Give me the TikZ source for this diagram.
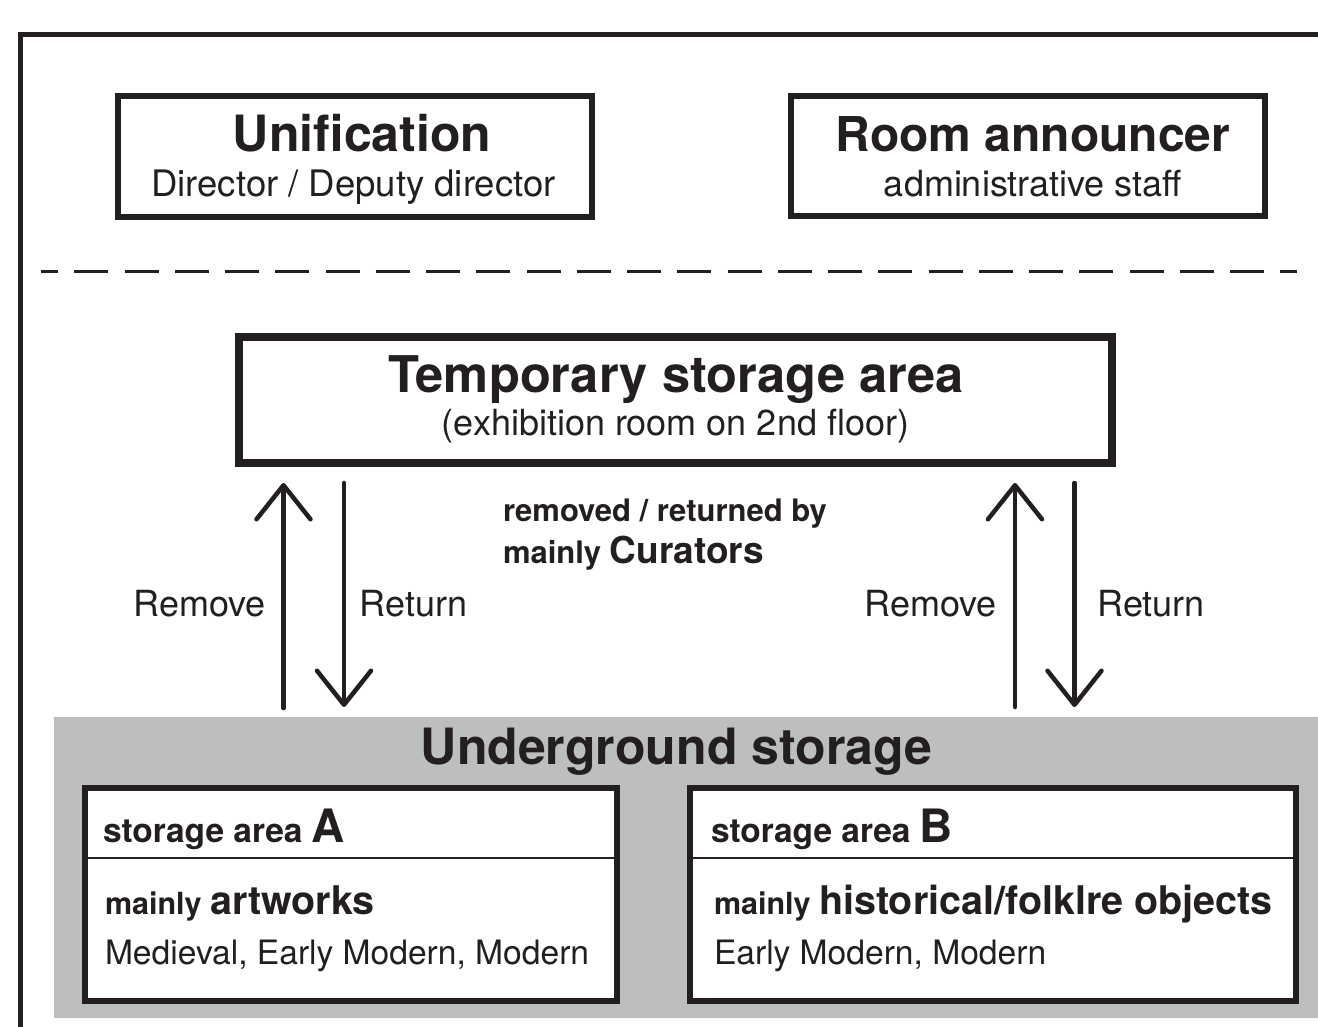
\documentclass[tikz,border=0pt]{standalone}
\usepackage{fontspec}
\setmainfont{TeX Gyre Heros}
\usetikzlibrary{arrows.meta}
\definecolor{ink}{HTML}{231F20}
\definecolor{grayfill}{HTML}{BCBEC0}
\newcommand{\fsz}[1]{\fontsize{#1}{#1}\selectfont}
\tikzset{
  box/.style={draw=ink, fill=white, rectangle, inner sep=0pt, outer sep=0pt},
  lbl/.style={anchor=base, inner sep=0pt, outer sep=0pt, text=ink},
  lblw/.style={anchor=base west, inner sep=0pt, outer sep=0pt, text=ink},
  flow/.style={draw=ink, line width=4.5pt, line cap=round,
    -{Straight Barb[length=34pt, width=54pt, line cap=round, line join=round]}},
  dashline/.style={draw=ink, line width=3.5pt, dash pattern=on 34pt off 16.25pt, dash phase=17pt},
  frame/.style={draw=ink, line width=4.5pt},
  divider/.style={draw=ink, line width=2pt}
}
\begin{document}
\begin{tikzpicture}[x=1pt, y=-1pt]
\useasboundingbox (0,0) rectangle (1318,1027);
\fill[white] (0,0) rectangle (1318,1027);

% outer frame (continues beyond the picture on the right and bottom)
\coordinate (frTR) at (1330,34.5);
\coordinate (frTL) at (20.5,34.5);
\coordinate (frBL) at (20.5,1040);
\draw[frame] (frTR) -- (frTL) -- (frBL);

% top boxes
\node[box, line width=6pt, minimum width=474pt, minimum height=121pt] (unif) at (355,156.5) {};
\node[lbl, font=\bfseries\fsz{50}] (unifT) at (362,152) {Unification};
\node[lbl, font=\fsz{36.5}] (unifS) at (353.5,197) {Director / Deputy director};

\node[box, line width=6pt, minimum width=474pt, minimum height=120pt] (room) at (1028,156) {};
\node[lbl, font=\bfseries\fsz{48}] (roomT) at (1033,152) {Room announcer};
\node[lbl, font=\fsz{36}] (roomS) at (1033,197) {administrative staff};

% dashed separator
\coordinate (dashL) at (41,271.5);
\coordinate (dashR) at (1297,271.5);
\draw[dashline] (dashL) -- (dashR);

% temporary storage
\node[box, line width=8pt, minimum width=873pt, minimum height=126pt] (tsa) at (675.5,400) {};
\node[lbl, font=\bfseries\fsz{50.6}] (tsaT) at (676,392) {Temporary storage area};
\node[lbl, font=\fsz{36}] (tsaS) at (675.5,435) {(exhibition room on 2nd floor)};

% curator note
\node[lblw, font=\bfseries\fsz{31}] (note1) at (503,521) {removed / returned by};
\node[lblw, font=\bfseries\fsz{31}] (note2) at (503,563) {mainly \fsz{37}Curators};

% underground storage
\fill[grayfill] (54,717) rectangle (1330,1018);
\node[lbl, font=\bfseries\fsz{50}] (ugT) at (676.5,764) {Underground storage};

% arrows
\coordinate (lUpS) at (283.5,708);
\coordinate (lUpE) at (283.5,483);
\coordinate (lDnS) at (344,483);
\coordinate (lDnE) at (344,707);
\coordinate (rUpS) at (1015,707);
\coordinate (rUpE) at (1015,483);
\coordinate (rDnS) at (1074.5,483);
\coordinate (rDnE) at (1074.5,707);
\draw[flow] (lUpS) -- (lUpE);
\draw[flow] (lDnS) -- (lDnE);
\draw[flow] (rUpS) -- (rUpE);
\draw[flow] (rDnS) -- (rDnE);
\node[lbl, font=\fsz{36}] (lRem) at (199.5,616) {Remove};
\node[lbl, font=\fsz{36}] (lRet) at (413.5,616) {Return};
\node[lbl, font=\fsz{36}] (rRem) at (930.5,616) {Remove};
\node[lbl, font=\fsz{36}] (rRet) at (1151,616) {Return};

% storage area A
\node[box, line width=6pt, minimum width=532.5pt, minimum height=213pt] (boxA) at (350.75,894.5) {};
\coordinate (dAl) at (84.5,858);
\coordinate (dAr) at (617,858);
\draw[divider] (dAl) -- (dAr);
\node[lblw, font=\bfseries\fsz{33.5}] (aHead) at (103,842) {storage area \fsz{46}A};
\node[lblw, font=\bfseries\fsz{30.5}] (aMain) at (105,914) {mainly \fsz{39.5}artworks};
\node[lblw, font=\fsz{33.6}] (aEra) at (105,964) {Medieval, Early Modern, Modern};

% storage area B
\node[box, line width=6pt, minimum width=605.5pt, minimum height=213pt] (boxB) at (992.75,894.5) {};
\coordinate (dBl) at (690,858);
\coordinate (dBr) at (1295.5,858);
\draw[divider] (dBl) -- (dBr);
\node[lblw, font=\bfseries\fsz{33.5}] (bHead) at (711,842) {storage area \fsz{46}B};
\node[lblw, font=\bfseries\fsz{30.5}] (bMain) at (714,914) {mainly \fsz{39.5}historical/folklre objects};
\node[lblw, font=\fsz{33.6}] (bEra) at (714,964) {Early Modern, Modern};
\end{tikzpicture}
\end{document}
